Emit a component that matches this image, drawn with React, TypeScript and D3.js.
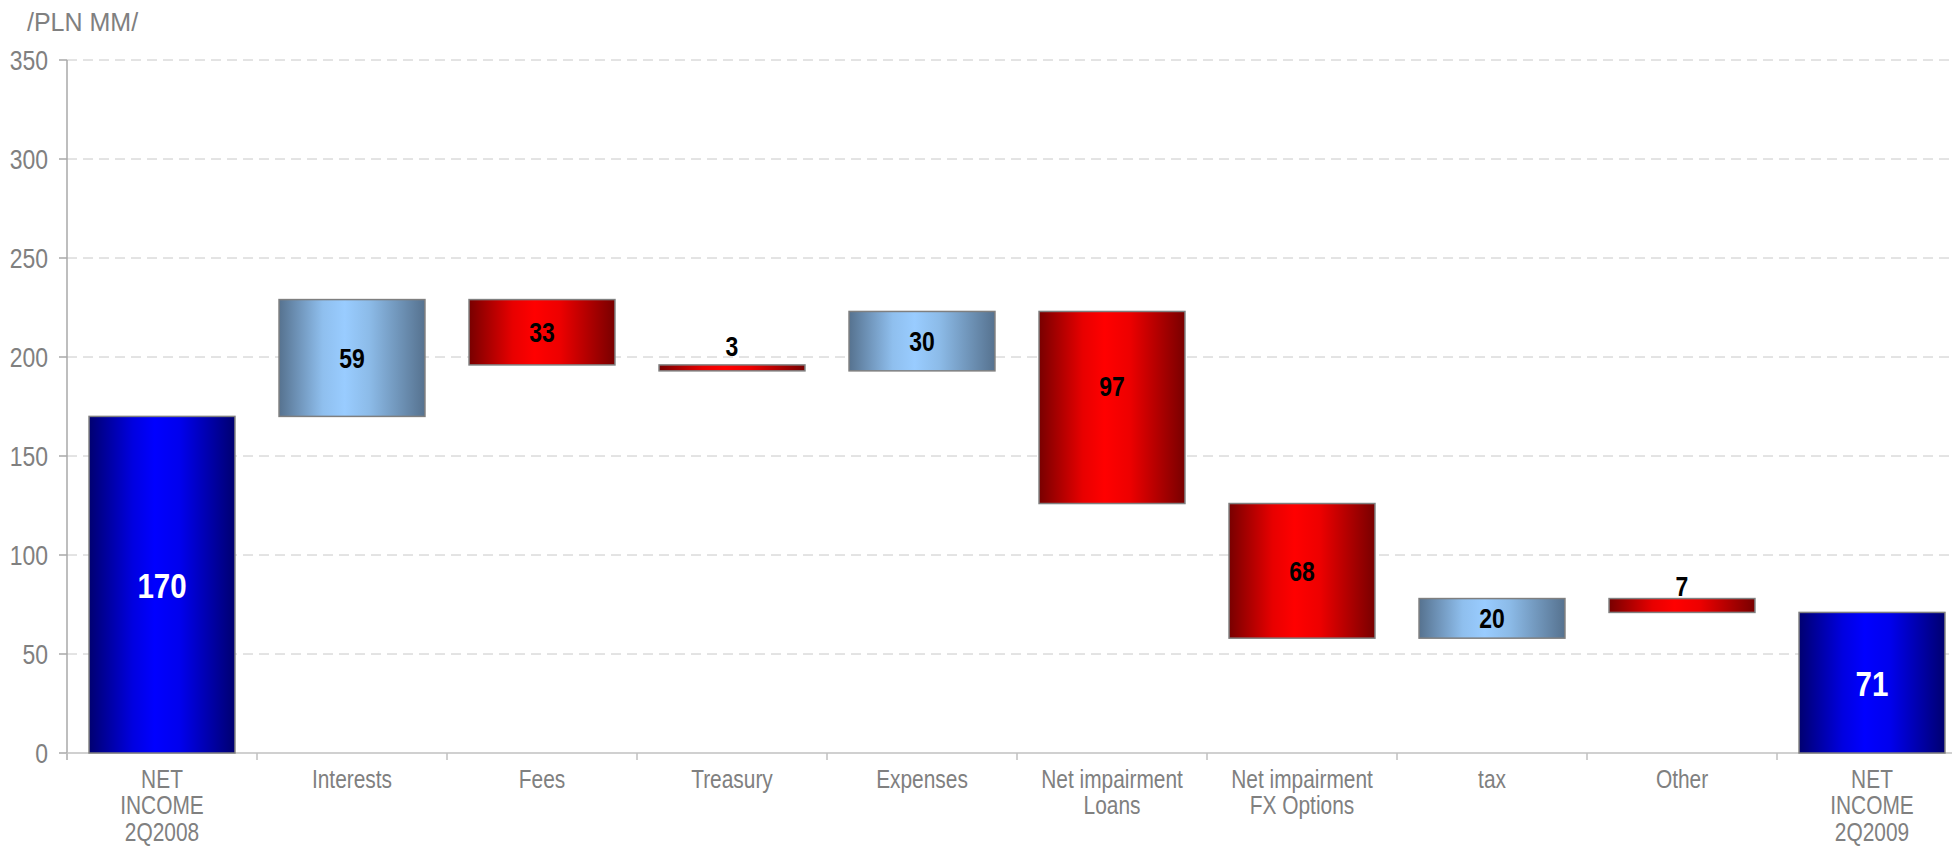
import React from "react";
import * as d3 from "d3";

const categories: string[][] = [
  ["NET", "INCOME", "2Q2008"],
  ["Interests"],
  ["Fees"],
  ["Treasury"],
  ["Expenses"],
  ["Net impairment", "Loans"],
  ["Net impairment", "FX Options"],
  ["tax"],
  ["Other"],
  ["NET", "INCOME", "2Q2009"],
];
const changes: number[] = [170, 59, -33, -3, 30, -97, -68, 20, -7, 71];
const kinds: string[] = ["total", "up", "down", "down", "up", "down", "down", "up", "down", "total"];
const yTicks: number[] = [0, 50, 100, 150, 200, 250, 300, 350];
const unitLabel = "/PLN MM/";

const W = 1952;
const H = 848;
const SANS = "'Liberation Sans', Arial, sans-serif";
const GREY = "#808080";
const NARROW_SCALE = 0.82;

// label nudges (Excel placed some labels above the segment centre)
const labelNudge: Record<number, number> = { 3: -22, 5: -22, 8: -20 };

function NText(props: {
  x: number;
  y: number;
  anchor?: string;
  size: number;
  fill: string;
  bold?: boolean;
  dy?: string;
  lines: string[];
  lineGap?: number;
}) {
  const { x, y, anchor = "middle", size, fill, bold, dy, lines, lineGap = 0 } = props;
  return (
    <g transform={`translate(${x},${y}) scale(${NARROW_SCALE},1)`}>
      <text
        x={0}
        y={0}
        textAnchor={anchor}
        fontFamily={SANS}
        fontSize={size}
        fontWeight={bold ? "bold" : "normal"}
        fill={fill}
      >
        {lines.map((ln, j) => (
          <tspan key={j} x={0} dy={j === 0 ? dy || 0 : lineGap}>
            {ln}
          </tspan>
        ))}
      </text>
    </g>
  );
}

export default function App() {
  const y = d3.scaleLinear().domain([0, 350]).range([753, 60]);
  const x = d3
    .scaleBand<number>()
    .domain(categories.map((_, i) => i))
    .range([67, 1967])
    .paddingInner(0.232)
    .paddingOuter(0.116);
  const step = x.step();
  const x0 = 67;

  let running = 0;
  const bars = changes.map((v, i) => {
    let lo: number, hi: number;
    if (kinds[i] === "total") {
      lo = 0;
      hi = v;
      running = v;
    } else {
      const start = running;
      const end = running + v;
      lo = Math.min(start, end);
      hi = Math.max(start, end);
      running = end;
    }
    return { i, v, lo, hi, kind: kinds[i] };
  });

  const fillFor = (k: string) => (k === "total" ? "url(#gTotal)" : k === "up" ? "url(#gUp)" : "url(#gDown)");

  return (
    <svg width={W} height={H} style={{ position: "absolute", left: 0, top: 0, background: "#fff" }}>
      <defs>
        <linearGradient id="gTotal" x1="0" x2="1" y1="0" y2="0">
          <stop offset="0" stopColor="#000070" />
          <stop offset="0.3" stopColor="#0000e0" />
          <stop offset="0.45" stopColor="#0000ff" />
          <stop offset="0.62" stopColor="#0000ee" />
          <stop offset="1" stopColor="#000070" />
        </linearGradient>
        <linearGradient id="gUp" x1="0" x2="1" y1="0" y2="0">
          <stop offset="0" stopColor="#56728f" />
          <stop offset="0.3" stopColor="#8fbfee" />
          <stop offset="0.45" stopColor="#99ccff" />
          <stop offset="0.62" stopColor="#8cbbe8" />
          <stop offset="1" stopColor="#56728f" />
        </linearGradient>
        <linearGradient id="gDown" x1="0" x2="1" y1="0" y2="0">
          <stop offset="0" stopColor="#780000" />
          <stop offset="0.3" stopColor="#e80000" />
          <stop offset="0.45" stopColor="#ff0000" />
          <stop offset="0.62" stopColor="#ee0000" />
          <stop offset="1" stopColor="#780000" />
        </linearGradient>
      </defs>

      {/* title */}
      <text x={27} y={31} fontFamily={SANS} fontSize={25} fill={GREY}>
        {unitLabel}
      </text>

      {/* gridlines */}
      {yTicks
        .filter((t) => t > 0)
        .map((t) => (
          <line
            key={"g" + t}
            x1={x0}
            x2={W}
            y1={y(t)}
            y2={y(t)}
            stroke="#c8c8c8"
            strokeWidth={1}
            strokeDasharray="10,6"
          />
        ))}

      {/* y axis */}
      <line x1={x0} x2={x0} y1={y(350)} y2={760} stroke="#a8a8a8" strokeWidth={1.5} />
      {yTicks.map((t) => (
        <g key={"t" + t}>
          <line x1={59} x2={x0} y1={y(t)} y2={y(t)} stroke="#a8a8a8" strokeWidth={1.5} />
          <NText x={48} y={y(t)} dy="0.35em" anchor="end" size={28} fill={GREY} lines={[String(t)]} />
        </g>
      ))}

      {/* x axis */}
      <line x1={x0} x2={W} y1={y(0)} y2={y(0)} stroke="#c0c0c0" strokeWidth={1.5} />
      {d3.range(categories.length + 1).map((k) => (
        <line
          key={"xt" + k}
          x1={x0 + k * step}
          x2={x0 + k * step}
          y1={y(0)}
          y2={760}
          stroke="#c0c0c0"
          strokeWidth={1.5}
        />
      ))}

      {/* bars */}
      {bars.map((b) => (
        <rect
          key={"b" + b.i}
          x={x(b.i)!}
          y={y(b.hi)}
          width={x.bandwidth()}
          height={y(b.lo) - y(b.hi)}
          fill={fillFor(b.kind)}
          stroke="#7f7f7f"
          strokeWidth={1.5}
        />
      ))}

      {/* value labels */}
      {bars.map((b) => {
        const cy = (y(b.hi) + y(b.lo)) / 2 + (labelNudge[b.i] || 0);
        const isTotal = b.kind === "total";
        return (
          <NText
            key={"l" + b.i}
            x={x(b.i)! + x.bandwidth() / 2}
            y={cy}
            dy="0.36em"
            size={isTotal ? 36 : 28}
            bold
            fill={isTotal ? "#ffffff" : "#000000"}
            lines={[String(Math.abs(b.v))]}
          />
        );
      })}

      {/* category labels */}
      {categories.map((lines, i) => (
        <NText
          key={"c" + i}
          x={x(i)! + x.bandwidth() / 2}
          y={788}
          size={25.5}
          fill={GREY}
          lines={lines}
          lineGap={26.5}
        />
      ))}
    </svg>
  );
}
